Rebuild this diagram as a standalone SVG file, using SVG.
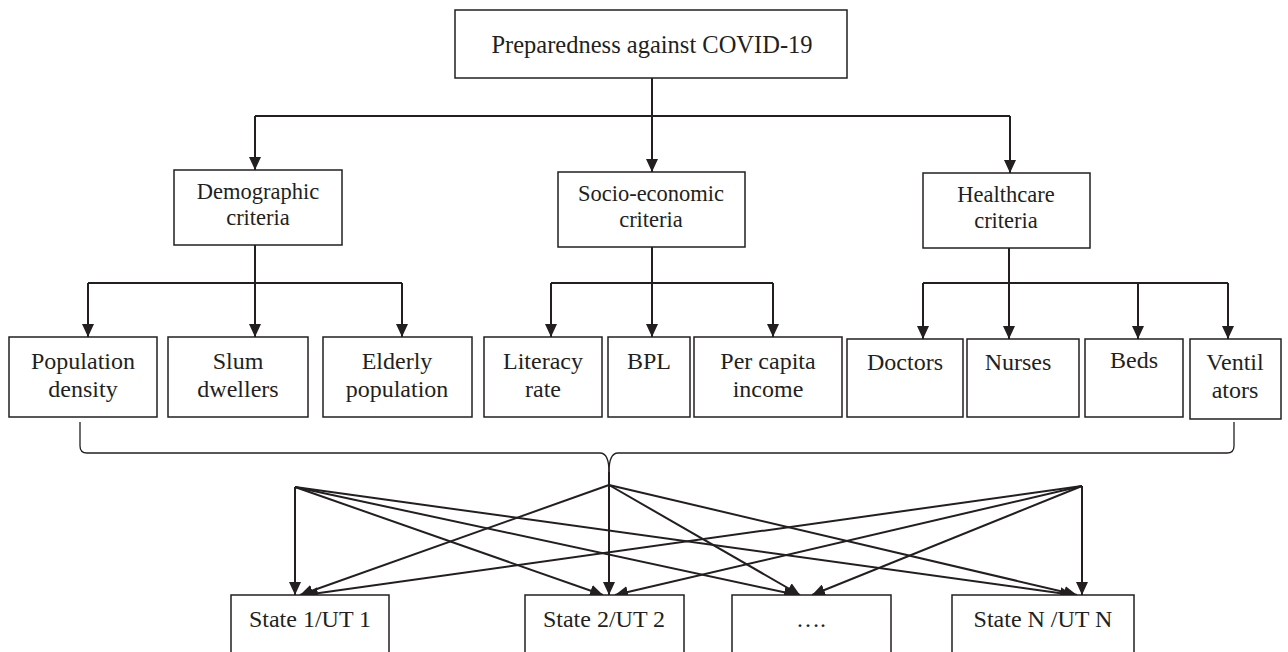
<svg xmlns="http://www.w3.org/2000/svg" width="1288" height="652" viewBox="0 0 1288 652">
<style>
.box{fill:#fff;stroke:#231f20;stroke-width:1.5}
.t{font-family:"Liberation Serif","Times New Roman",serif;fill:#231f20;text-anchor:middle}
.t1{font-size:24.5px}
.t2{font-size:22.5px}
.t3{font-size:24px}
.c{fill:none;stroke:#231f20;stroke-width:2}
.a{marker-end:url(#ah)}
.br{fill:none;stroke:#231f20;stroke-width:1.3}
</style>
<defs>
<marker id="ah" markerUnits="userSpaceOnUse" markerWidth="13" markerHeight="12" refX="13" refY="6" orient="auto">
<path d="M0,0 L13,6 L0,12 z" fill="#231f20"/>
</marker>
</defs>
<g id="connectors">
<path class="c" d="M255,116 L1010,116"/>
<path class="c a" d="M652,78 L652,172"/>
<path class="c a" d="M255,116 L255,170"/>
<path class="c a" d="M1010,116 L1010,173"/>
<path class="c" d="M88,283 L402,283"/>
<path class="c a" d="M255,245 L255,337"/>
<path class="c a" d="M88,283 L88,337"/>
<path class="c a" d="M402,283 L402,337"/>
<path class="c" d="M551,283 L773,283"/>
<path class="c a" d="M652,247 L652,337"/>
<path class="c a" d="M551,283 L551,337"/>
<path class="c a" d="M773,283 L773,337"/>
<path class="c" d="M923,283 L1228,283"/>
<path class="c a" d="M1009,248 L1009,339"/>
<path class="c a" d="M923,283 L923,339"/>
<path class="c a" d="M1138,283 L1138,339"/>
<path class="c a" d="M1228,283 L1228,339"/>
<path class="br" d="M80,422 L80,446 Q80,453 87,453 L600,453 C606,453 609,458 609,472"/>
<path class="br" d="M1234,422 L1234,446 Q1234,453 1227,453 L618,453 C612,453 609,458 609,472"/>
<path class="c a" d="M609,472 L609,595"/>
<path class="c a" d="M295,487 L295,595"/>
<path class="c a" d="M295,487 L603,595"/>
<path class="c a" d="M295,487 L797,595"/>
<path class="c a" d="M295,487 L1073,595"/>
<path class="c a" d="M609,485 L300,595"/>
<path class="c a" d="M609,485 L800,595"/>
<path class="c a" d="M609,485 L1077,595"/>
<path class="c a" d="M1082,486 L1082,595"/>
<path class="c a" d="M1082,486 L305,595"/>
<path class="c a" d="M1082,486 L615,595"/>
<path class="c a" d="M1082,486 L812,595"/>
</g>
<g id="root"><rect class="box" x="455" y="10" width="392" height="68"/><text class="t t1" x="652" y="53">Preparedness against COVID-19</text></g>
<g id="demographic"><rect class="box" x="174" y="170" width="168" height="75"/><text class="t t2" x="258" y="199">Demographic</text><text class="t t2" x="258" y="225">criteria</text></g>
<g id="socio"><rect class="box" x="558" y="172" width="187" height="75"/><text class="t t2" x="651" y="201">Socio-economic</text><text class="t t2" x="651" y="227">criteria</text></g>
<g id="healthcare"><rect class="box" x="923" y="173" width="167" height="75"/><text class="t t2" x="1006" y="202">Healthcare</text><text class="t t2" x="1006" y="228">criteria</text></g>
<g id="popdensity"><rect class="box" x="9" y="337" width="148" height="80"/><text class="t t3" x="83" y="369">Population</text><text class="t t3" x="83" y="397">density</text></g>
<g id="slum"><rect class="box" x="168" y="337" width="140" height="80"/><text class="t t3" x="238" y="369">Slum</text><text class="t t3" x="238" y="397">dwellers</text></g>
<g id="elderly"><rect class="box" x="323" y="337" width="149" height="80"/><text class="t t3" x="397" y="369">Elderly</text><text class="t t3" x="397" y="397">population</text></g>
<g id="literacy"><rect class="box" x="484" y="337" width="118" height="80"/><text class="t t3" x="543" y="369">Literacy</text><text class="t t3" x="543" y="397">rate</text></g>
<g id="bpl"><rect class="box" x="608" y="337" width="82" height="80"/><text class="t t3" x="649" y="369">BPL</text></g>
<g id="percapita"><rect class="box" x="694" y="337" width="148" height="80"/><text class="t t3" x="768" y="369">Per capita</text><text class="t t3" x="768" y="397">income</text></g>
<g id="doctors"><rect class="box" x="847" y="339" width="116" height="78"/><text class="t t3" x="905" y="370">Doctors</text></g>
<g id="nurses"><rect class="box" x="967" y="339" width="112" height="78"/><text class="t t3" x="1018" y="370">Nurses</text></g>
<g id="beds"><rect class="box" x="1085" y="339" width="98" height="78"/><text class="t t3" x="1134" y="368">Beds</text></g>
<g id="ventilators"><rect class="box" x="1190" y="339" width="91" height="80"/><text class="t t3" x="1235" y="370">Ventil</text><text class="t t3" x="1235" y="398">ators</text></g>
<g id="state1"><rect class="box" x="231" y="595" width="158" height="70"/><text class="t t3" x="310" y="627">State 1/UT 1</text></g>
<g id="state2"><rect class="box" x="525" y="595" width="159" height="70"/><text class="t t3" x="604" y="627">State 2/UT 2</text></g>
<g id="dots"><rect class="box" x="732" y="595" width="159" height="70"/><text class="t t3" x="811" y="627">….</text></g>
<g id="stateN"><rect class="box" x="952" y="595" width="182" height="70"/><text class="t t3" x="1043" y="627">State N /UT N</text></g>
</svg>
